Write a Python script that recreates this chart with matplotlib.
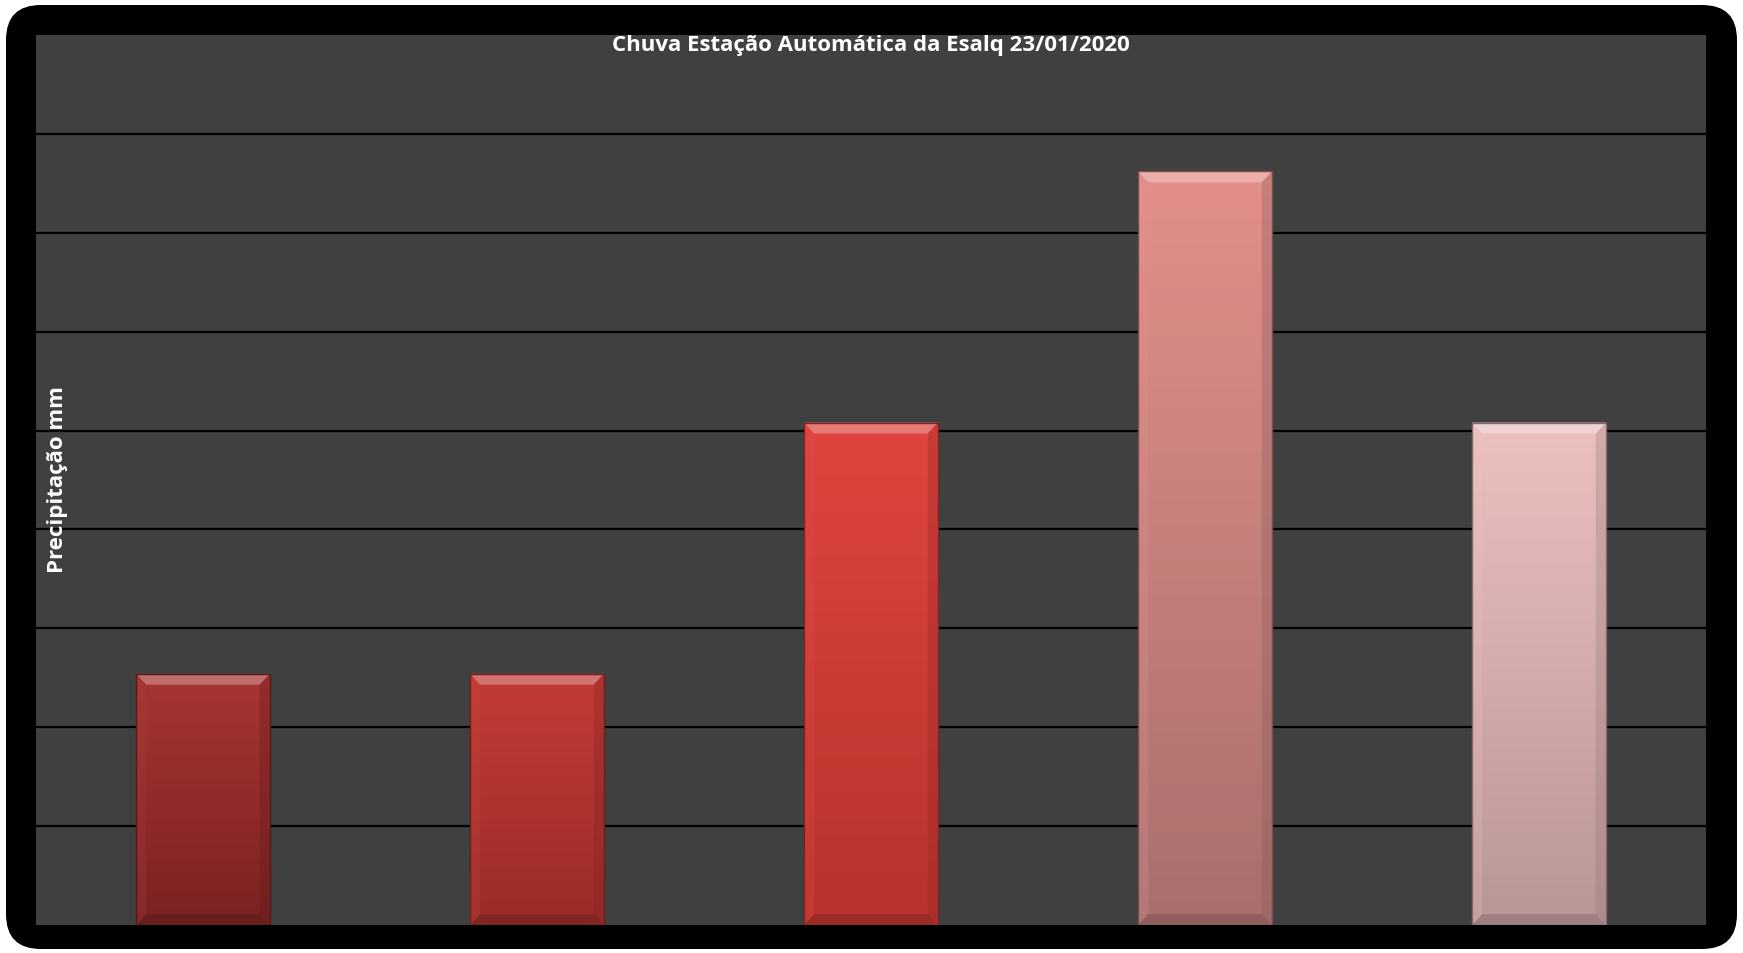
import numpy as np
import matplotlib
matplotlib.use("Agg")
import matplotlib.pyplot as plt
from matplotlib.patches import FancyBboxPatch, Polygon
from matplotlib.colors import to_rgb

# rain gauge readings (mm), one bucket tip = 0.254 mm
categories = ["1", "2", "3", "4", "5"]
rain_mm = [0.254, 0.254, 0.508, 0.762, 0.508]
top_colors = ["#a83532", "#c33c37", "#e0453f", "#e38f8a", "#ecc1c0"]
bottom_colors = ["#7a2222", "#9a2b28", "#b8322d", "#a86f6d", "#b99695"]

y_max = 0.9
y_step = 0.1

W, H = 1743, 954
fig = plt.figure(figsize=(W / 100, H / 100), dpi=100)
fig.patch.set_facecolor("white")

# rounded black frame around the chart
frame = FancyBboxPatch((6 / W, 4 / H), (W - 12) / W, (H - 10) / H,
                       boxstyle="round,pad=0,rounding_size=0.02",
                       transform=fig.transFigure, facecolor="black",
                       edgecolor="none", zorder=-5,
                       mutation_aspect=W / H)
fig.patches.append(frame)

ax = fig.add_axes([36 / W, (H - 926) / H, 1670 / W, 890 / H])
ax.set_zorder(1)
ax.set_facecolor("#404040")
for s in ax.spines.values():
    s.set_visible(False)

x = np.arange(len(categories))
width = 0.4
ax.set_xlim(-0.5, len(categories) - 0.5)
ax.set_ylim(0, y_max)
for yv in np.arange(y_step, y_max - 1e-9, y_step):
    ax.axhline(yv, color="black", lw=1.6, zorder=1)

bars = ax.bar(x, rain_mm, width, color="none", edgecolor="none", zorder=2)


def mix(c, other, t):
    a, b = np.array(to_rgb(c)), np.array(to_rgb(other))
    return tuple(a * (1 - t) + b * t)


dx = 0.03   # bevel width in x units
dy = 0.011  # bevel height in y units
for bar, h, ct, cb in zip(bars, rain_mm, top_colors, bottom_colors):
    x0 = bar.get_x()
    x1 = x0 + bar.get_width()
    # vertical gradient fill clipped to the bar
    grad = np.linspace(0, 1, 256)[:, None]
    rgb = np.array(to_rgb(ct))[None, None, :] * (1 - grad[..., None]) + \
        np.array(to_rgb(cb))[None, None, :] * grad[..., None]
    im = ax.imshow(rgb, extent=(x0, x1, 0, h), aspect="auto",
                   origin="upper", zorder=2, interpolation="bilinear")
    im.set_clip_path(bar)
    # bevel edges
    top = Polygon([(x0, h), (x1, h), (x1 - dx, h - dy), (x0 + dx, h - dy)],
                  closed=True, facecolor=mix(ct, "white", 0.28),
                  edgecolor="none", zorder=3)
    left = Polygon([(x0, h), (x0 + dx, h - dy), (x0 + dx, dy), (x0, 0)],
                   closed=True, facecolor=mix(ct, "white", 0.05),
                   edgecolor="none", zorder=3, alpha=0.25)
    right = Polygon([(x1, h), (x1 - dx, h - dy), (x1 - dx, dy), (x1, 0)],
                    closed=True, facecolor=mix(cb, "black", 0.2),
                    edgecolor="none", zorder=3, alpha=0.3)
    bottom = Polygon([(x0, 0), (x1, 0), (x1 - dx, dy), (x0 + dx, dy)],
                     closed=True, facecolor=mix(cb, "black", 0.15),
                     edgecolor="none", zorder=3)
    for p in (top, left, right, bottom):
        ax.add_patch(p)
    ax.add_patch(plt.Rectangle((x0, 0), x1 - x0, h, fill=False,
                               edgecolor=mix(cb, "black", 0.3), lw=1.0,
                               zorder=4))

ax.set_xlim(-0.5, len(categories) - 0.5)
ax.set_ylim(0, y_max)
ax.set_xticks([])
ax.set_yticks([])

ax.text(0.5, 1 - 9 / 890, "Chuva Estação Automática da Esalq 23/01/2020",
        transform=ax.transAxes, ha="center", va="center", color="white",
        fontsize=16, fontweight="bold", family="Open Sans")
fig.text(58 / W, 1 - 480 / H, "Precipitação mm", rotation=90,
         ha="center", va="center", color="white", fontsize=16,
         fontweight="bold", family="Open Sans", zorder=5)

fig.savefig("out.png", dpi=100)
